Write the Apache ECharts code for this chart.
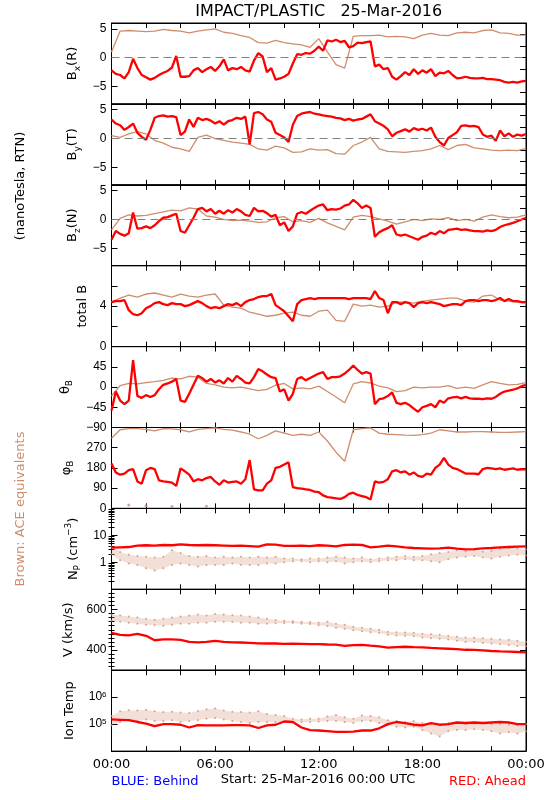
<!DOCTYPE html>
<html><head><meta charset="utf-8">
<script src="https://cdn.jsdelivr.net/npm/echarts@6/dist/echarts.min.js"></script>
<style>html,body{margin:0;padding:0;background:#fff}#c{width:550px;height:800px}</style>
</head><body><div id="c"></div>
<script>
// ---- time stamps (hours after 25-Mar-2016 00:00 UTC) ----
const hours15 = [0,0.25,0.5,0.75,1,1.25,1.5,1.75,2,2.25,2.5,2.75,3,3.25,3.5,3.75,
 4,4.25,4.5,4.75,5,5.25,5.5,5.75,6,6.25,6.5,6.75,7,7.25,7.5,7.75,
 8,8.25,8.5,8.75,9,9.25,9.5,9.75,10,10.25,10.5,10.75,11,11.25,11.5,11.75,
 12,12.25,12.5,12.75,13,13.25,13.5,13.75,14,14.25,14.5,14.75,15,15.25,15.5,15.75,
 16,16.25,16.5,16.75,17,17.25,17.5,17.75,18,18.25,18.5,18.75,19,19.25,19.5,19.75,
 20,20.25,20.5,20.75,21,21.25,21.5,21.75,22,22.25,22.5,22.75,23,23.25,23.5,23.75,24];
const hours30 = [0,0.5,1,1.5,2,2.5,3,3.5,4,4.5,5,5.5,6,6.5,7,7.5,8,8.5,9,9.5,10,10.5,11,11.5,
 12,12.5,13,13.5,14,14.5,15,15.5,16,16.5,17,17.5,18,18.5,19,19.5,20,20.5,21,21.5,22,22.5,23,23.5,24];
const xTickLabels = [0,6,12,18,24];

// ---- RED: Ahead (15-min) ----
const bxRed = [-2.2,-2.8,-3.0,-3.6,-2.5,-0.2,-1.8,-3.0,-3.4,-3.8,-3.5,-3.0,-2.6,-2.3,-1.7,0.3,
 -3.3,-3.3,-3.2,-2.2,-1.8,-2.5,-2.0,-1.6,-2.3,-1.5,-0.3,-2.2,-1.8,-2.0,-1.6,-2.2,
 -2.4,-0.5,0.8,0.2,-2.5,-1.8,-3.8,-3.6,-3.3,-2.8,-1.0,0.6,0.5,0.8,0.7,1.2,
 1.9,1.2,3.0,2.8,3.1,2.7,2.9,1.8,2.0,2.6,2.5,2.7,2.8,-1.5,-1.2,-2.0,
 -1.8,-3.3,-3.8,-3.2,-2.5,-3.0,-2.0,-2.8,-2.2,-2.6,-2.0,-3.2,-2.6,-2.7,-2.3,-3.0,
 -3.6,-3.5,-3.3,-3.5,-3.6,-3.6,-3.5,-3.7,-3.7,-3.8,-3.9,-4.2,-4.3,-4.2,-4.3,-4.1,-4.0];
const byRed = [3.3,2.6,2.3,1.5,2.0,2.6,1.0,0.3,-0.2,1.5,3.6,3.9,4.0,3.8,3.9,3.7,
 0.6,1.2,3.3,2.0,3.6,3.2,3.4,3.1,2.6,3.0,2.4,3.0,3.2,3.6,3.4,3.8,
 -1.0,4.4,4.6,4.2,3.3,2.9,1.0,0.6,0.2,-0.6,2.4,3.9,4.3,4.5,4.6,4.3,
 4.2,4.0,3.9,3.8,3.6,3.5,3.2,3.4,3.1,3.3,3.4,3.8,4.2,3.0,2.6,2.2,
 1.6,0.4,1.0,1.3,1.6,1.2,1.8,1.5,1.7,1.4,1.9,0.3,-0.6,-1.2,0.1,0.6,
 1.1,2.2,2.3,2.1,2.2,2.0,0.7,0.3,0.5,-0.4,1.4,0.4,0.9,0.3,0.7,0.5,0.8];
const bzRed = [-3.5,-2.0,-2.5,-2.8,-2.4,1.2,-1.6,-1.5,-1.2,-1.5,-1.0,-0.3,0.3,0.4,0.7,1.0,
 -2.0,-2.3,-1.0,0.3,1.8,2.0,1.4,1.8,1.0,1.5,1.0,1.6,1.2,1.8,1.4,0.8,
 0.6,2.0,1.4,1.5,1.1,0.5,0.8,-1.0,-0.5,-2.0,-1.2,1.0,1.3,1.0,1.5,2.0,
 2.4,2.6,1.6,1.8,1.7,1.9,2.4,2.6,3.4,2.8,2.0,2.4,2.0,-3.0,-2.2,-1.8,
 -1.5,-1.0,-2.6,-2.8,-2.6,-2.9,-3.2,-3.5,-3.0,-2.8,-2.3,-2.6,-2.0,-2.4,-1.8,-1.7,
 -1.6,-1.8,-1.7,-1.9,-2.0,-2.0,-2.1,-1.9,-2.0,-1.8,-1.3,-1.0,-0.8,-0.6,-0.3,0.0,0.3];
const btRed = [4.4,4.5,4.5,4.6,3.6,3.2,3.1,3.3,3.8,4.0,4.3,4.4,4.2,4.1,4.3,4.2,
 4.2,4.0,4.1,4.3,4.5,4.3,4.0,3.8,3.9,3.8,4.0,4.2,4.1,4.3,4.0,4.4,
 4.6,4.7,4.9,5.0,5.0,5.2,4.1,3.8,3.5,3.0,2.5,4.2,4.6,4.7,4.8,4.7,
 4.8,4.8,4.8,4.8,4.8,4.8,4.8,4.7,4.8,4.8,4.8,4.8,4.7,5.5,4.8,4.6,
 3.3,4.4,4.4,4.2,4.4,4.3,3.9,4.3,4.4,4.3,4.4,4.3,4.2,4.0,4.1,4.2,
 4.2,4.1,4.5,4.6,4.6,4.5,4.6,4.6,4.5,4.6,4.8,4.5,4.7,4.5,4.5,4.4,4.4];
const thetaRed = [-52,-10,-30,-38,-30,60,-20,-24,-18,-22,-18,-5,5,8,12,18,
 -30,-33,-15,5,25,20,12,18,10,15,8,20,12,25,18,10,
 8,22,40,35,28,22,20,-10,-5,-30,-15,18,22,15,20,25,
 30,33,18,22,22,24,30,38,48,38,30,33,30,-38,-27,-25,
 -20,-12,-35,-38,-35,-40,-48,-55,-45,-42,-38,-45,-30,-35,-25,-23,
 -22,-25,-22,-25,-26,-26,-27,-25,-26,-22,-15,-10,-8,-6,-3,2,5];
const phiRed = [200,160,150,155,170,175,120,110,170,180,175,125,120,118,115,100,
 178,165,150,120,130,125,135,140,120,105,125,115,118,120,110,130,
 215,85,80,80,110,125,180,185,195,205,95,90,88,85,82,75,
 72,58,50,48,45,42,50,65,70,60,55,50,40,120,115,118,
 130,165,170,160,165,150,160,145,140,155,150,180,195,225,195,180,
 175,165,155,155,155,152,175,180,178,175,178,172,175,178,172,175,173];
// 30-min
const npRed = [3.5,3.6,3.7,4.2,4.3,4.2,4.4,4.3,4.6,4.4,4.3,4.4,4.3,4.2,4.1,4.2,
 4.0,3.8,4.6,4.5,4.1,4.1,4.2,4.0,4.3,4.2,3.9,4.4,4.5,4.4,3.6,3.8,
 4.2,3.9,3.6,3.4,3.3,3.2,3.3,3.5,3.2,3.0,3.1,3.3,3.4,3.6,3.7,3.8,3.9];
const vRed = [485,475,472,480,470,448,452,452,450,440,438,440,445,440,438,437,
 435,433,432,432,430,431,430,429,429,427,426,420,424,425,421,418,
 412,414,416,414,413,410,408,406,404,401,400,398,395,393,392,390,388];
const tempRed = [1.5e5,1.45e5,1.4e5,1.2e5,1.05e5,0.85e5,1.0e5,1.0e5,0.95e5,0.75e5,0.92e5,0.9e5,0.9e5,0.9e5,0.92e5,0.92e5,
 0.9e5,0.72e5,0.9e5,0.95e5,1.25e5,1.2e5,0.75e5,0.6e5,0.58e5,0.55e5,0.52e5,0.52e5,0.53e5,0.58e5,0.58e5,0.7e5,
 1.0e5,1.2e5,1.1e5,0.95e5,0.9e5,1.1e5,0.95e5,1.0e5,1.15e5,1.1e5,1.15e5,1.1e5,1.15e5,1.2e5,1.15e5,1.0e5,1.0e5];

// ---- BROWN: ACE equivalents (30-min) ----
const bxBrown = [1.0,4.6,4.7,4.6,4.5,4.6,4.9,4.7,4.6,4.3,4.6,4.8,5.0,4.4,4.2,3.8,
 3.5,2.6,2.5,3.0,2.6,2.4,2.2,1.8,3.3,1.0,-1.2,-1.8,3.7,3.8,3.8,3.9,
 3.6,3.7,3.6,3.3,3.9,4.2,3.9,3.8,4.3,4.4,4.3,4.7,4.8,4.3,4.2,3.9,3.9];
const byBrown = [0.5,0.2,0.8,1.2,0.8,-0.3,-0.8,-1.5,-1.8,-2.2,0.2,0.6,0.0,-0.3,-0.6,-0.8,
 -1.0,-1.8,-2.0,-1.3,-1.6,-2.4,-2.3,-1.8,-2.0,-1.9,-2.6,-2.7,-1.2,-0.6,0.2,-1.8,
 -2.2,-2.3,-2.4,-2.2,-2.1,-1.8,-1.2,-1.9,-1.2,-1.0,-1.6,-1.8,-2.0,-2.1,-2.0,-2.1,-1.7];
const bzBrown = [-1.8,0.2,0.8,0.6,0.7,1.0,1.3,1.6,1.5,2.0,1.8,0.6,0.4,0.0,-0.2,-0.1,
 -0.3,-0.5,-0.4,0.3,0.5,-0.4,-0.2,-0.5,0.2,-0.6,-1.2,-1.8,0.4,0.7,0.5,0.1,
 -0.3,-0.8,-0.4,0.0,-0.2,0.1,0.0,0.3,-0.2,0.0,-0.3,0.4,0.8,0.5,0.3,0.4,0.8];
const btBrown = [4.4,4.8,5.1,4.9,5.2,5.3,5.1,4.9,5.2,5.0,4.9,5.1,5.2,4.1,3.9,3.8,
 3.4,3.2,3.0,3.1,3.3,3.4,3.1,3.0,3.5,3.6,2.6,2.5,4.2,4.0,4.1,3.9,
 4.0,4.4,4.4,4.3,4.5,4.6,4.7,4.8,4.8,4.5,4.4,5.0,5.1,4.6,4.5,4.4,4.3];
const thetaBrown = [-20,3,8,7,10,12,15,20,18,24,22,8,5,0,-2,0,
 -4,-8,-5,4,8,-4,-2,-4,2,-10,-22,-35,7,12,9,2,
 -2,-10,-8,0,-2,0,0,3,-3,0,-3,5,12,8,5,6,10];
// phi of the ACE field: main track near 360 deg, plus the wrapped readings near 0 deg
const phiBrown = [312,350,355,355,352,345,355,354,350,340,352,355,358,352,348,340,
 330,310,325,345,335,325,330,325,340,300,250,210,350,355,358,335,
 330,328,326,325,328,335,350,345,340,340,342,342,340,338,338,340,342];
const phiBrownWrapped = [null,null,15,null,12,null,null,8,null,null,null,10,null,null,null,null,
 null,null,null,null,null,null,null,null,null,null,null,null,null,null,null,null,
 null,null,null,null,null,null,null,null,null,null,null,null,null,null,null,null,null];
const npBrownHi = [3.8,2.4,1.9,1.7,1.6,1.5,1.6,2.8,2.2,1.7,1.6,1.7,1.5,1.6,1.5,1.6,
 1.5,1.6,1.5,1.6,1.4,1.4,1.3,1.4,1.4,1.5,1.6,1.5,1.4,1.5,1.3,1.4,
 1.5,1.6,1.7,1.6,1.7,2.0,2.2,2.4,2.8,2.6,2.9,2.5,2.7,3.2,3.4,3.3,3.0];
const npBrownLo = [2.0,1.2,0.9,0.8,0.6,0.5,0.6,0.8,0.9,0.8,0.7,0.8,0.8,0.8,0.9,0.8,
 0.8,0.8,0.9,0.9,1.0,1.1,1.1,1.0,1.1,1.0,1.1,0.9,1.0,1.1,1.0,1.1,
 1.2,1.2,1.3,1.2,1.2,1.1,1.0,1.3,1.5,1.6,1.7,1.5,1.4,1.6,1.8,1.9,1.8];
const vBrownHi = [575,570,565,560,555,550,555,560,565,570,575,570,578,575,572,570,
 565,560,555,548,545,543,540,538,535,540,530,525,515,510,505,500,
 490,488,487,485,480,478,475,470,465,462,460,458,455,452,450,445,440];
const vBrownLo = [545,540,535,530,525,522,520,525,530,530,535,535,540,540,538,535,
 535,530,530,532,533,533,530,528,522,518,510,505,497,492,488,485,
 475,472,470,468,462,458,455,452,445,440,440,435,432,428,425,420,418];
const tempBrownHi = [2.0e5,3.0e5,3.3e5,3.2e5,3.4e5,3.0e5,2.8e5,2.9e5,2.7e5,2.6e5,3.1e5,3.6e5,3.8e5,3.2e5,2.9e5,2.8e5,
 2.7e5,3.0e5,2.4e5,2.2e5,2.0e5,1.6e5,1.5e5,1.6e5,1.6e5,1.9e5,2.2e5,1.8e5,1.6e5,2.1e5,2.0e5,1.8e5,
 1.4e5,1.3e5,1.2e5,1.3e5,1.1e5,1.0e5,0.9e5,1.1e5,1.1e5,1.0e5,1.05e5,1.1e5,1.0e5,1.05e5,0.95e5,0.9e5,1.0e5];
const tempBrownLo = [0.9e5,1.2e5,1.4e5,1.3e5,1.5e5,1.3e5,1.3e5,1.4e5,1.2e5,1.3e5,1.4e5,1.6e5,1.7e5,1.5e5,1.3e5,1.2e5,
 1.1e5,1.2e5,1.2e5,1.2e5,1.2e5,1.2e5,1.2e5,1.2e5,1.25e5,1.3e5,1.3e5,1.2e5,1.1e5,1.3e5,1.3e5,1.1e5,
 0.9e5,0.8e5,0.75e5,0.8e5,0.6e5,0.45e5,0.35e5,0.55e5,0.6e5,0.6e5,0.65e5,0.6e5,0.55e5,0.45e5,0.5e5,0.45e5,0.55e5];

// ---- axis tick values ----
const bLabels = [-5,0,5], bTicksR = [-6,-4,-2,0,2,4];
const totLabels = [0,4], totTicks = [0,2,4,6];
const thetaLabels = [-90,-45,0,45], thetaTicks = [-45,0,45];
const phiLabels = [0,90,180,270], phiTicks = [90,180,270];
const npLabels = [1,10];
const npMinor = [0.2,0.3,0.4,0.5,0.6,0.7,0.8,0.9,2,3,4,5,6,7,8,9,20,30,40,50,60,70,80,90];
const vLabels = [400,600];
const vMinor = [320,340,360,380,420,440,460,480,500,520,540,560,580,620,640,660,680];
const tempLabels = [1e5,1e6];

// ---------------------------------------------------------------
const FONT = 'DejaVu Sans', TFONT = 'Liberation Sans';
const RED = '#ff0000', BROWN = '#cf8d6e', BLUE = '#0000ff';
const TOP0 = 23, PH = 80.9, LEFT = 111.5, RIGHT = 24;
const zip = (xs, ys) => xs.map((x, i) => [x, ys[i] == null ? '-' : ys[i]]);
const minus = v => String(v).replace('-', '\u2212');

const nameRich = {
  b: {fontSize: 13, fontFamily: FONT, lineHeight: 18, verticalAlign: 'middle', color: '#000'},
  sub: {fontSize: 9, fontFamily: FONT, lineHeight: 9, verticalAlign: 'bottom', color: '#000'},
  sup: {fontSize: 9, fontFamily: FONT, lineHeight: 9, verticalAlign: 'top', color: '#000'}
};

const panels = [
 {type:'value', min:-8, max:6, labels:bLabels, ticksL:bLabels, ticksR:bTicksR, zero:true,
  name:'{b|B}{sub|x}{b|(R)}', gap:28, red:[hours15,bxRed], brown:[hours30,bxBrown]},
 {type:'value', min:-8, max:6, labels:bLabels, ticksL:bLabels, ticksR:bTicksR, zero:true,
  name:'{b|B}{sub|y}{b|(T)}', gap:28, red:[hours15,byRed], brown:[hours30,byBrown]},
 {type:'value', min:-8, max:6, labels:bLabels, ticksL:bLabels, ticksR:bTicksR, zero:true,
  name:'{b|B}{sub|z}{b|(N)}', gap:28, red:[hours15,bzRed], brown:[hours30,bzBrown]},
 {type:'value', min:0, max:8, labels:totLabels, ticksL:totTicks, ticksR:totTicks,
  name:'{b|total B}', gap:20, red:[hours15,btRed], brown:[hours30,btBrown]},
 {type:'value', min:-90, max:90, labels:thetaLabels, ticksL:thetaTicks, ticksR:thetaTicks,
  name:'{b|\u03b8}{sub|B}', gap:37, red:[hours15,thetaRed], brown:[hours30,thetaBrown]},
 {type:'value', min:0, max:360, labels:phiLabels, ticksL:phiTicks, ticksR:phiTicks,
  name:'{b|\u03c6}{sub|B}', gap:34, red:[hours15,phiRed], brown:[hours30,phiBrown], brownDots:[hours30,phiBrownWrapped]},
 {type:'log', min:0.1, max:100, labels:npLabels, ticksL:npLabels, ticksR:npLabels, minor:npMinor,
  name:'{b|N}{sub|P}{b| (cm}{sup|\u22123}{b|)}', gap:25, red:[hours30,npRed], cloud:[hours30,npBrownHi,npBrownLo]},
 {type:'value', min:300, max:700, labels:vLabels, ticksL:vLabels, ticksR:vLabels, minor:vMinor,
  name:'{b|V (km/s)}', gap:34, red:[hours30,vRed], cloud:[hours30,vBrownHi,vBrownLo]},
 {type:'log', min:1e4, max:1e7, labels:tempLabels, ticksL:tempLabels, ticksR:tempLabels,
  fmt: v => '10{sup|' + Math.round(Math.log10(v)) + '}',
  name:'{b|Ion Temp}', gap:33, red:[hours30,tempRed], cloud:[hours30,tempBrownHi,tempBrownLo]}
];

const grid = [], xAxis = [], yAxis = [], series = [];
const axLine = {show:true, onZero:false, lineStyle:{color:'#000', width:1}};
const tickStyle = {color:'#000', width:1};

panels.forEach((p, i) => {
  grid.push({left:LEFT, right:RIGHT, top:TOP0 + i*PH, height:PH, show:true,
             borderColor:'#000', borderWidth:1, backgroundColor:'transparent'});
  const xb = xAxis.length;
  const last = i === panels.length - 1;
  xAxis.push({type:'value', gridIndex:i, min:0, max:24, interval:2, position:'bottom',
    axisLine:axLine, axisTick:{show:true, inside:true, length:5, lineStyle:tickStyle},
    axisLabel: last ? {show:true, customValues:xTickLabels, margin:7, fontFamily:FONT, fontSize:13, color:'#000',
      formatter: v => String(v % 24).padStart(2,'0') + ':00'} : {show:false},
    splitLine:{show:false}});
  xAxis.push({type:'value', gridIndex:i, min:0, max:24, interval:2, position:'top',
    axisLine:axLine, axisTick:{show:true, inside:true, length:5, lineStyle:tickStyle},
    axisLabel:{show:false}, splitLine:{show:false}});
  const yl = yAxis.length;
  const lab = {show:true, customValues:p.labels, margin:5, fontFamily:TFONT, fontSize:12, color:'#000',
               formatter: p.fmt || (v => minus(v))};
  if (p.fmt) lab.rich = {sup:{fontSize:8, fontFamily:TFONT, lineHeight:8, verticalAlign:'top', color:'#000'}};
  yAxis.push({type:p.type, gridIndex:i, min:p.min, max:p.max, position:'left',
    axisLine:axLine, axisTick:{show:true, inside:true, length:6, customValues:p.ticksL, lineStyle:tickStyle},
    axisLabel:lab, splitLine:{show:false},
    name:p.name, nameLocation:'middle', nameRotate:90, nameGap:p.gap,
    nameTextStyle:{rich:nameRich}});
  yAxis.push({type:p.type, gridIndex:i, min:p.min, max:p.max, position:'right',
    axisLine:axLine, axisTick:{show:true, inside:true, length:6, customValues:p.ticksR, lineStyle:tickStyle},
    axisLabel:{show:false}, splitLine:{show:false}});
  if (p.minor) {
    ['left','right'].forEach(pos => yAxis.push({type:p.type, gridIndex:i, min:p.min, max:p.max, position:pos,
      axisLine:{show:false}, axisTick:{show:true, inside:true, length:3, customValues:p.minor, lineStyle:tickStyle},
      axisLabel:{show:false}, splitLine:{show:false}}));
  }
  const base = {xAxisIndex:xb, yAxisIndex:yl, silent:true, animation:false};
  if (p.cloud) {
    const [hx, hi, lo] = p.cloud;
    // translucent band between the upper and lower edge of the ACE scatter cloud
    series.push(Object.assign({type:'custom', data:hx.map((t, k) => [t, hi[k], lo[k]]),
      encode:{x:0, y:[1,2]}, clip:true, z:1,
      renderItem: (params, api) => {
        if (params.dataIndex !== 0) return null;
        const top = hx.map((t, k) => api.coord([t, hi[k]]));
        const bot = hx.map((t, k) => api.coord([t, lo[k]])).reverse();
        return {type:'polygon', shape:{points: top.concat(bot)}, style:{fill:BROWN, opacity:0.28}};
      }}, base));
    series.push(Object.assign({type:'scatter', data:zip(hx, hi), symbolSize:2, itemStyle:{color:BROWN}, z:2}, base));
    series.push(Object.assign({type:'scatter', data:zip(hx, lo), symbolSize:2, itemStyle:{color:BROWN}, z:2}, base));
  } else {
    const s = Object.assign({type:'line', data:zip(p.brown[0], p.brown[1]), showSymbol:false,
      lineStyle:{color:BROWN, width:1.3}, z:2}, base);
    if (p.zero) s.markLine = {silent:true, symbol:'none', label:{show:false}, animation:false,
      lineStyle:{color:'#808080', type:[8,5], width:1}, data:[{yAxis:0}]};
    series.push(s);
    if (p.brownDots) series.push(Object.assign({type:'scatter', data:zip(p.brownDots[0], p.brownDots[1]),
      symbolSize:3, itemStyle:{color:BROWN}, z:2}, base));
  }
  series.push(Object.assign({type:'line', data:zip(p.red[0], p.red[1]), showSymbol:false,
    lineStyle:{color:RED, width:2.3}, z:4}, base));
});

const graphic = [
  {type:'text', x:318.75, y:12, style:{text:'IMPACT/PLASTIC   25-Mar-2016', font:'16px "DejaVu Sans"', fill:'#000', align:'center', verticalAlign:'middle'}},
  {type:'text', x:21, y:186, rotation:Math.PI/2, style:{text:'(nanoTesla, RTN)', font:'13px "DejaVu Sans"', fill:'#000', align:'center', verticalAlign:'middle'}},
  {type:'text', x:21, y:509, rotation:Math.PI/2, style:{text:'Brown: ACE equivalents', font:'13px "DejaVu Sans"', fill:BROWN, align:'center', verticalAlign:'middle'}},
  {type:'text', x:111.5, y:782, style:{text:'BLUE: Behind', font:'13px "DejaVu Sans"', fill:BLUE, align:'left', verticalAlign:'middle'}},
  {type:'text', x:318, y:780, style:{text:'Start: 25-Mar-2016 00:00 UTC', font:'13px "DejaVu Sans"', fill:'#000', align:'center', verticalAlign:'middle'}},
  {type:'text', x:526, y:782, style:{text:'RED: Ahead', font:'13px "DejaVu Sans"', fill:RED, align:'right', verticalAlign:'middle'}}
];

const chart = echarts.init(document.getElementById('c'), null, {renderer:'canvas', width:550, height:800});
chart.setOption({animation:false, backgroundColor:'#fff', textStyle:{fontFamily:FONT},
  grid, xAxis, yAxis, series, graphic});
</script>
</body></html>
